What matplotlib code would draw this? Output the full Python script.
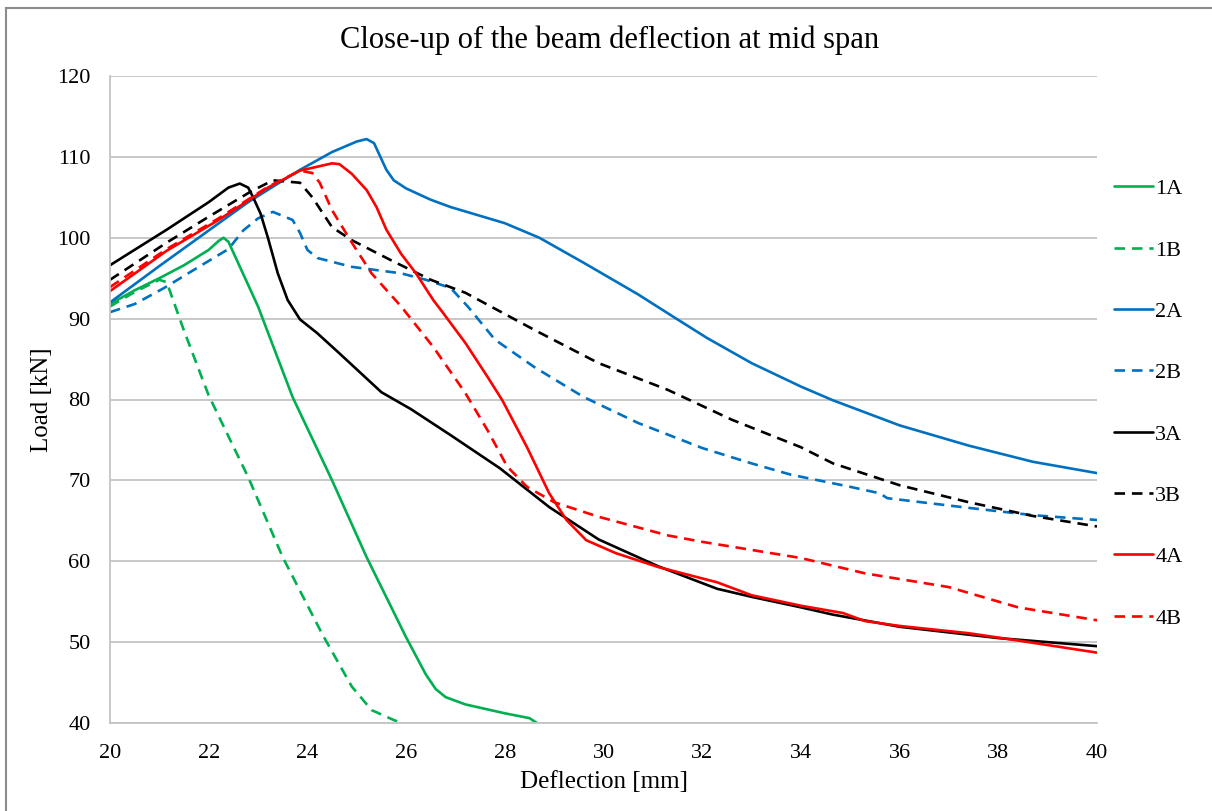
import matplotlib
matplotlib.use("Agg")
import matplotlib.pyplot as plt
from matplotlib.lines import Line2D

# Load-deflection records (deflection in mm, load in kN)
x_1a = [20, 20.5, 21, 21.5, 22, 22.2, 22.3, 22.4, 23, 23.7, 24.5, 25.2, 26.0, 26.4, 26.6, 26.8, 27.2, 28.0, 28.5, 28.65]
y_1a = [91.8, 93.5, 95.0, 96.6, 98.5, 99.6, 100.0, 99.5, 91.5, 80.3, 70.0, 60.5, 50.6, 46.0, 44.2, 43.2, 42.3, 41.2, 40.6, 40.0]

x_1b = [20, 20.5, 21.0, 21.15, 21.5, 22.0, 22.8, 23.5, 24.3, 24.9, 25.3, 25.7, 25.9]
y_1b = [91.5, 93.3, 94.8, 94.5, 88.5, 80.5, 70.4, 60.5, 51.0, 44.5, 41.6, 40.5, 40.0]

x_2a = [20, 21, 22, 22.8, 23.85, 24.5, 25.0, 25.2, 25.35, 25.6, 25.75, 26.0, 26.5, 26.9, 28.0, 28.7,
        29.6, 30.7, 31.5, 32.1, 33.0, 34.0, 34.65, 36.0, 37.4, 38.7, 40.0]
y_2a = [92.0, 96.5, 100.9, 104.4, 108.4, 110.6, 111.9, 112.2, 111.7, 108.4, 107.1, 106.1, 104.7, 103.8,
        101.8, 100.0, 96.9, 93.0, 89.9, 87.6, 84.5, 81.6, 79.9, 76.8, 74.3, 72.3, 70.9]

x_2b = [20, 20.5, 21.1, 21.8, 22.4, 22.7, 23.0, 23.3, 23.7, 23.85, 24.0, 24.2, 24.9, 25.4, 25.9, 26.4,
        26.9, 27.25, 27.8, 28.6, 29.6, 30.7, 32.0, 33.0, 33.8, 35.0, 35.6, 35.75, 37.4, 38.7, 40.0]
y_2b = [90.8, 91.8, 93.8, 96.4, 98.6, 100.9, 102.4, 103.2, 102.2, 100.6, 98.5, 97.5, 96.4, 96.0, 95.6,
        94.8, 93.8, 91.5, 87.4, 84.0, 80.3, 77.1, 74.0, 72.1, 70.7, 69.2, 68.4, 67.8, 66.6, 65.7, 65.1]

x_3a = [20, 21.15, 22.0, 22.4, 22.63, 22.8, 22.9, 23.05, 23.2, 23.4, 23.6, 23.85, 24.2, 24.65, 25.5,
        26.1, 26.9, 27.9, 28.9, 29.9, 31.1, 32.3, 33.0, 34.0, 34.65, 36.0, 38.0, 40.0]
y_3a = [96.6, 101.0, 104.4, 106.2, 106.7, 106.2, 105.0, 103.0, 100.0, 95.6, 92.3, 89.9, 88.2, 85.7, 80.9,
        78.8, 75.6, 71.5, 66.7, 62.7, 59.4, 56.6, 55.6, 54.3, 53.4, 51.9, 50.5, 49.5]

x_3b = [20, 21.15, 22.0, 22.85, 23.3, 23.85, 24.1, 24.5, 24.9, 25.7, 26.5, 27.2, 28.6, 29.9, 31.3,
        32.6, 34.0, 34.65, 36.0, 37.4, 38.7, 40.0]
y_3b = [94.8, 99.4, 102.6, 105.7, 107.1, 106.8, 105.0, 101.3, 99.7, 97.2, 94.8, 93.2, 88.6, 84.5, 81.2,
        77.5, 74.1, 72.1, 69.4, 67.3, 65.6, 64.3]

x_4a = [20, 21.15, 22.2, 23.2, 23.85, 24.5, 24.65, 24.9, 25.2, 25.4, 25.6, 25.9, 26.2, 26.55, 26.75,
        27.2, 27.65, 27.95, 28.45, 28.9, 29.25, 29.65, 30.25, 31.1, 32.3, 33.0, 34.0, 34.85, 35.3,
        36.0, 37.4, 38.4, 40.0]
y_4a = [93.4, 98.4, 102.2, 106.2, 108.3, 109.2, 109.1, 107.9, 105.9, 103.8, 101.0, 98.0, 95.6, 92.3,
        90.7, 87.0, 82.8, 79.9, 74.1, 68.4, 65.1, 62.6, 61.0, 59.3, 57.4, 55.8, 54.5, 53.6, 52.6,
        52.0, 51.1, 50.2, 48.7]

x_4b = [20, 21.15, 22.2, 23.2, 23.85, 24.1, 24.25, 24.5, 24.9, 25.3, 25.9, 26.55, 27.2, 27.65, 28.05,
        28.45, 29.0, 29.9, 31.3, 32.0, 32.6, 34.0, 35.3, 37.0, 38.4, 40.0]
y_4b = [93.9, 98.6, 102.4, 106.3, 108.3, 108.0, 106.8, 103.4, 99.4, 95.6, 91.5, 86.5, 80.8, 76.2, 71.7,
        69.2, 67.3, 65.5, 63.2, 62.4, 61.8, 60.4, 58.5, 56.8, 54.3, 52.7]

labels = ["1A", "1B", "2A", "2B", "3A", "3B", "4A", "4B"]
x_ticks = list(range(20, 41, 2))
y_ticks = list(range(40, 121, 10))

GREEN = "#00B050"
BLUE = "#0070C0"
BLACK = "#000000"
RED = "#FF0000"
DASH = (0, (4, 2.6))

plt.rcParams["font.family"] = ["Liberation Serif", "DejaVu Serif"]

fig = plt.figure(figsize=(12.12, 8.11), dpi=100)
ax = fig.add_axes([110 / 1212, 1 - 723 / 811, (1097 - 110) / 1212, (723 - 76) / 811])

series = [
    (x_1a, y_1a, GREEN, "-"),
    (x_1b, y_1b, GREEN, DASH),
    (x_2a, y_2a, BLUE, "-"),
    (x_2b, y_2b, BLUE, DASH),
    (x_3a, y_3a, BLACK, "-"),
    (x_3b, y_3b, BLACK, DASH),
    (x_4a, y_4a, RED, "-"),
    (x_4b, y_4b, RED, DASH),
]
for (xs, ys, col, ls), lab in zip(series, labels):
    ax.plot(xs, ys, color=col, linestyle=ls, linewidth=1.9, label=lab,
            solid_capstyle="round", solid_joinstyle="round", dash_capstyle="butt")

ax.set_xlim(20, 40)
ax.set_ylim(40, 120)
ax.set_xticks(x_ticks)
ax.set_yticks(y_ticks)
ax.tick_params(axis="both", length=0, labelsize=16)
ax.tick_params(axis="y", pad=14)
ax.tick_params(axis="x", pad=15)

ax.grid(axis="y", color="#C4C4C4", linewidth=1.3)
ax.set_axisbelow(True)
for side in ["top", "right"]:
    ax.spines[side].set_visible(False)
for side in ["left", "bottom"]:
    ax.spines[side].set_color("#C4C4C4")
    ax.spines[side].set_linewidth(1.3)

ax.set_xlabel("Deflection [mm]", fontsize=18, labelpad=6)
ax.set_ylabel("Load [kN]", fontsize=18, labelpad=3)
fig.text(0.503, 1 - 40 / 811, "Close-up of the beam deflection at mid span",
         ha="center", va="center", fontsize=22)

leg = ax.legend(loc="upper left", bbox_to_anchor=(1.008, 0.855), frameon=False,
                fontsize=16, handlelength=1.75, handletextpad=0.12, labelspacing=1.835,
                borderaxespad=0)

# Outer chart frame (top and left edges)
fig.add_artist(Line2D([5.5 / 1212, 5.5 / 1212], [1 - 7.5 / 811, 0], color="#8C8C8C",
                      linewidth=1.5, transform=fig.transFigure))
fig.add_artist(Line2D([5.5 / 1212, 1], [1 - 7.5 / 811, 1 - 7.5 / 811], color="#8C8C8C",
                      linewidth=1.5, transform=fig.transFigure))

fig.savefig("out.png", dpi=100)
